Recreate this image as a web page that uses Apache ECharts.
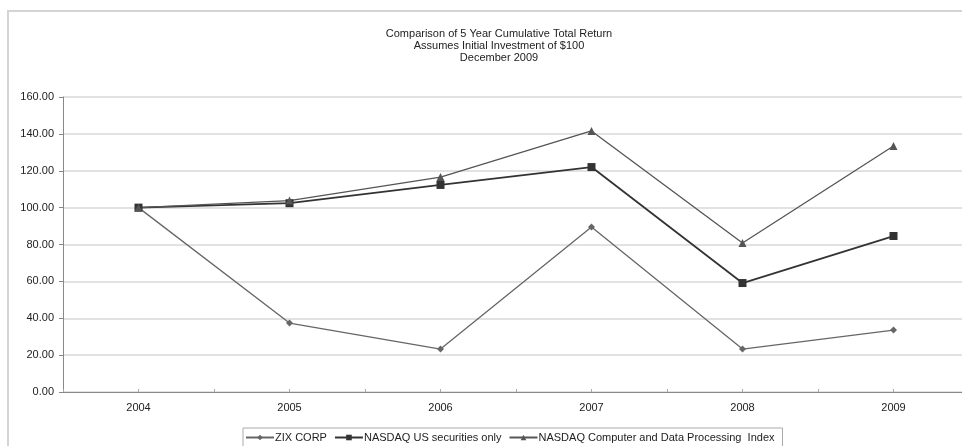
<!DOCTYPE html>
<html>
<head>
<meta charset="utf-8">
<script src="https://cdn.jsdelivr.net/npm/echarts@6/dist/echarts.min.js"></script>
<style>
  html, body { margin: 0; padding: 0; background: #fff; overflow: hidden; }
  #chart { width: 970px; height: 446px; }
</style>
</head>
<body>
<div id="chart"></div>
<script>
// Five-year cumulative total return, $100 invested at end of 2004
const years = ['2004', '2005', '2006', '2007', '2008', '2009'];
const zixCorp = [100.00, 37.40, 23.30, 89.50, 23.30, 33.60];
const nasdaqUS = [100.00, 102.40, 112.30, 122.00, 59.10, 84.60];
const nasdaqComputer = [100.00, 103.80, 116.60, 141.60, 80.80, 133.40];

const seriesNames = [
  'ZIX CORP',
  'NASDAQ US securities only',
  'NASDAQ Computer and Data Processing  Index'
];
const titleLines = [
  'Comparison of 5 Year Cumulative Total Return',
  'Assumes Initial Investment of $100',
  'December 2009'
];

const FONT = '"Liberation Sans", Arial, sans-serif';
const chart = echarts.init(document.getElementById('chart'));

function lineSeries(name, data, symbol, size, color, width) {
  return {
    name: name,
    type: 'line',
    data: data,
    symbol: symbol,
    symbolSize: size,
    showSymbol: true,
    itemStyle: { color: color },
    lineStyle: { color: color, width: width },
    emphasis: { disabled: true },
    animation: false
  };
}

chart.setOption({
  backgroundColor: '#fff',
  animation: false,
  textStyle: { fontFamily: FONT },
  title: {
    text: titleLines.join('\n'),
    left: 494,
    textAlign: 'center',
    top: 23,
    textStyle: { fontSize: 11, fontWeight: 'normal', color: '#222', lineHeight: 12, fontFamily: FONT }
  },
  graphic: [{
    type: 'rect',
    shape: { x: 8, y: 11, width: 1000, height: 500 },
    style: { fill: 'none', stroke: '#d4d4d4', lineWidth: 2 },
    silent: true,
    z: -10
  }],
  legend: {
    left: 243,
    top: 428,
    itemGap: 7,
    itemWidth: 28,
    itemHeight: 7,
    padding: [4, 8, 10, 2],
    borderColor: '#aaa',
    borderWidth: 1,
    textStyle: { fontSize: 11, color: '#222', fontFamily: FONT, padding: [0, 0, 0, -4] },
    data: seriesNames
  },
  grid: { left: 63, top: 97, width: 906, height: 295 },
  xAxis: [{
    type: 'category',
    data: years,
    boundaryGap: true,
    axisLine: { lineStyle: { color: '#888', width: 1 } },
    axisTick: { show: true, inside: true, length: 3, lineStyle: { color: '#aaa' } },
    axisLabel: { fontSize: 11, color: '#222', margin: 10 },
    splitLine: { show: false }
  }, {
    type: 'category',
    data: years,
    position: 'bottom',
    boundaryGap: true,
    axisLine: { show: false },
    axisTick: { show: true, inside: true, length: 3, alignWithLabel: true, lineStyle: { color: '#aaa' } },
    axisLabel: { show: false },
    splitLine: { show: false }
  }],
  yAxis: {
    type: 'value',
    min: 0,
    max: 160,
    interval: 20,
    axisLine: { show: true, lineStyle: { color: '#888', width: 1 } },
    axisTick: { show: true, length: 4, lineStyle: { color: '#888' } },
    axisLabel: { fontSize: 11, color: '#222', margin: 9, formatter: v => v.toFixed(2) },
    splitLine: { show: true, lineStyle: { color: '#d8d8d8', width: 1.5 } }
  },
  series: [
    lineSeries(seriesNames[0], zixCorp, 'diamond', 7, '#666', 1.3),
    lineSeries(seriesNames[1], nasdaqUS, 'rect', 8, '#333', 1.8),
    lineSeries(seriesNames[2], nasdaqComputer, 'triangle', 8, '#555', 1.3)
  ]
});
</script>
</body>
</html>
